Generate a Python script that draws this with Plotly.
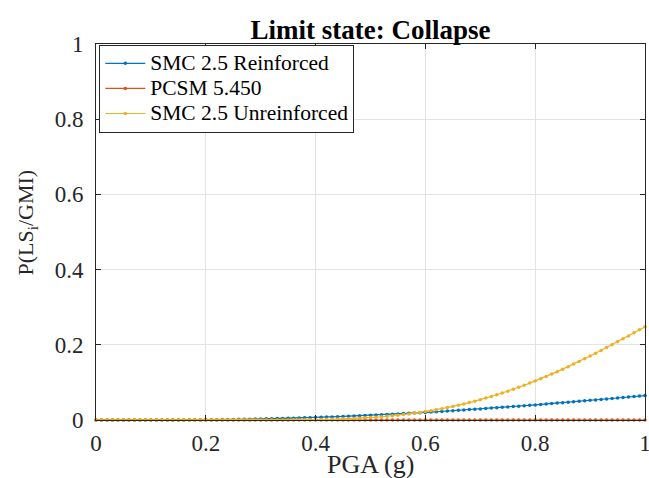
import plotly.graph_objects as go

# PGA values (g), 0.00 .. 1.00 step 0.01
pga = [round(i * 0.01, 2) for i in range(101)]

# SMC 2.5 Reinforced (blue)
reinforced = [
    0.0, 0.0, 0.0, 0.0, 0.0, 0.0, 0.0, 0.0, 0.0, 0.00002,
    0.00004, 0.00006, 0.0001, 0.00013, 0.00018, 0.00023, 0.0003, 0.00038, 0.00047, 0.00058,
    0.0007, 0.00083, 0.00097, 0.0011, 0.0013, 0.0015, 0.0017, 0.0019, 0.0022, 0.0025,
    0.0028, 0.0031, 0.0034, 0.0037, 0.0041, 0.0045, 0.0049, 0.0053, 0.0058, 0.0062,
    0.0067, 0.0072, 0.0077, 0.0082, 0.0088, 0.0094, 0.0100, 0.0106, 0.0112, 0.0119,
    0.0125, 0.0132, 0.0139, 0.0147, 0.0154, 0.0162, 0.0170, 0.0177, 0.0186, 0.0194,
    0.0202, 0.0211, 0.0220, 0.0229, 0.0238, 0.0247, 0.0256, 0.0266, 0.0276, 0.0285,
    0.0295, 0.0305, 0.0316, 0.0326, 0.0337, 0.0347, 0.0358, 0.0369, 0.0380, 0.0391,
    0.0402, 0.0414, 0.0425, 0.0437, 0.0449, 0.0461, 0.0473, 0.0485, 0.0497, 0.0509,
    0.0522, 0.0534, 0.0547, 0.0559, 0.0572, 0.0585, 0.0598, 0.0611, 0.0624, 0.0637,
    0.0650,
]

# PCSM 5.450 (orange)
pcsm = [0.0] * 101

# SMC 2.5 Unreinforced (yellow)
unreinforced = [
    0.0, 0.0, 0.0, 0.0, 0.0, 0.0, 0.0, 0.0, 0.0, 0.0,
    0.0, 0.0, 0.0, 0.0, 0.0, 0.0, 0.0, 0.0, 0.0, 0.0,
    0.0, 0.0, 0.0, 0.0, 0.00001, 0.00001, 0.00002, 0.00003, 0.00004, 0.00005,
    0.00007, 0.0001, 0.00014, 0.00019, 0.00025, 0.00033, 0.00043, 0.00055, 0.0007, 0.0009,
    0.0011, 0.0014, 0.0017, 0.0020, 0.0025, 0.0030, 0.0035, 0.0041, 0.0048, 0.0057,
    0.0066, 0.0076, 0.0087, 0.0099, 0.0113, 0.0128, 0.0144, 0.0162, 0.0181, 0.0202,
    0.0224, 0.0248, 0.0273, 0.0301, 0.0330, 0.0360, 0.0393, 0.0427, 0.0463, 0.0501,
    0.0540, 0.0582, 0.0626, 0.0671, 0.0719, 0.0767, 0.0818, 0.0871, 0.0925, 0.0981,
    0.1039, 0.1098, 0.1159, 0.1222, 0.1286, 0.1352, 0.1418, 0.1487, 0.1557, 0.1628,
    0.1700, 0.1774, 0.1849, 0.1925, 0.2002, 0.2079, 0.2159, 0.2237, 0.2318, 0.2399,
    0.2481,
]

series_names = ["SMC 2.5 Reinforced", "PCSM 5.450", "SMC 2.5 Unreinforced"]
series_colors = ["#0072BD", "#D95319", "#EDB120"]
tick_vals = [0, 0.2, 0.4, 0.6, 0.8, 1]
tick_text = ["0", "0.2", "0.4", "0.6", "0.8", "1"]

FONT = "Liberation Serif, Times New Roman, serif"

fig = go.Figure()
for name, ys, col in zip(series_names, [reinforced, pcsm, unreinforced], series_colors):
    fig.add_trace(go.Scatter(
        x=pga, y=ys, mode="lines+markers",
        name="<span style='font-size:21.5px'>" + name + "</span>",
        line=dict(color=col, width=1.2),
        marker=dict(color=col, size=3.5),
        cliponaxis=False,
    ))

axis_common = dict(
    range=[0, 1], tickvals=tick_vals, ticktext=tick_text,
    showgrid=True, gridcolor="#e3e3e3", gridwidth=1,
    showline=True, linecolor="#262626", linewidth=1, mirror="ticks",
    ticks="inside", ticklen=5, tickcolor="#262626",
    zeroline=False, ticklabeloverflow="allow", automargin=False,
    tickfont=dict(family=FONT, size=23, color="#262626"),
)

fig.update_layout(
    width=649, height=478,
    margin=dict(l=96, r=4, t=44, b=58),
    paper_bgcolor="white", plot_bgcolor="white",
    font=dict(family=FONT, color="#262626"),
    title=dict(text="<b>Limit state: Collapse</b>", x=0.5, xref="paper", xanchor="center",
               y=1 - 30 / 478, yref="container", yanchor="middle",
               font=dict(family=FONT, size=27, color="black")),
    xaxis=dict(axis_common, ticklabelstandoff=2),
    yaxis=dict(axis_common, ticklabelstandoff=7),
    legend=dict(x=0.006, y=0.998, xanchor="left", yanchor="top",
                bgcolor="white", bordercolor="#262626", borderwidth=1,
                font=dict(family=FONT, size=17, color="black"),
                itemwidth=40, tracegroupgap=0),
    showlegend=True,
)

# axis titles as annotations for exact placement
fig.add_annotation(text="PGA (g)", xref="paper", yref="paper", x=0.5, y=0,
                   xanchor="center", yanchor="top", yshift=-28, showarrow=False,
                   font=dict(family=FONT, size=26, color="#262626"))
fig.add_annotation(text="P(LS<sub>i</sub>/GMI)", xref="paper", yref="paper", x=0, y=0.525,
                   xanchor="center", yanchor="middle", xshift=-69, textangle=-90, showarrow=False,
                   font=dict(family=FONT, size=22, color="#262626"))

fig.write_html("out.html")
